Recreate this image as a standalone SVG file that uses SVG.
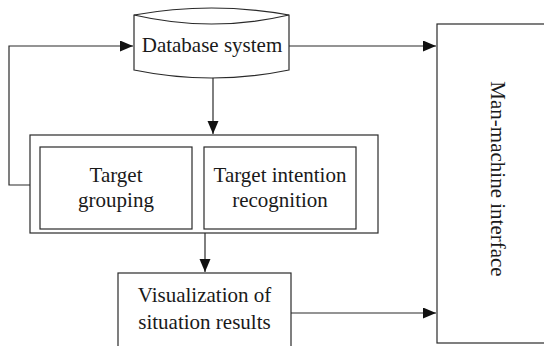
<svg xmlns="http://www.w3.org/2000/svg" width="544" height="346" viewBox="0 0 544 346">
<style>
.s{fill:none;stroke:#2a2a2a;stroke-width:1.2}
.b{fill:#fff;stroke:#2a2a2a;stroke-width:1.2}
.t{font-family:"Liberation Serif","Times New Roman",serif;font-size:21px;fill:#1a1a1a;text-anchor:middle}
</style>
<defs>
<marker id="ah" markerUnits="userSpaceOnUse" markerWidth="14" markerHeight="12" refX="13" refY="5.5" orient="auto">
<path d="M0,0 L13,5.5 L0,11 z" fill="#111"/>
</marker>
</defs>
<rect width="544" height="346" fill="#fff"/>
<g id="connectors">
<polyline class="s" points="30,185 9,185 9,46 133,46" marker-end="url(#ah)"/>
<line class="s" x1="289" y1="46" x2="436" y2="46" marker-end="url(#ah)"/>
<line class="s" x1="213" y1="78" x2="213" y2="134" marker-end="url(#ah)"/>
<line class="s" x1="205" y1="233" x2="205" y2="272" marker-end="url(#ah)"/>
<line class="s" x1="291" y1="313" x2="436" y2="313" marker-end="url(#ah)"/>
</g>
<g id="database">
<path class="b" d="M134,15 Q211.5,1 289,15 L289,70 Q211.5,86 134,70 Z"/>
<path class="s" d="M134,15 Q211.5,33 289,15"/>
<text class="t" x="212" y="52">Database system</text>
</g>
<g id="analysis">
<rect class="b" x="30" y="135" width="348" height="98"/>
</g>
<g id="grouping">
<rect class="b" x="40" y="147" width="152" height="82"/>
<text class="t" x="116" y="182">Target</text>
<text class="t" x="116" y="207">grouping</text>
</g>
<g id="intention">
<rect class="b" x="204" y="147" width="152" height="82"/>
<text class="t" x="280" y="182">Target intention</text>
<text class="t" x="280" y="207">recognition</text>
</g>
<g id="visualization">
<rect class="b" x="118" y="273" width="173" height="80"/>
<text class="t" x="204.5" y="302">Visualization of</text>
<text class="t" x="204.5" y="329">situation results</text>
</g>
<g id="mmi">
<rect class="b" x="437" y="24" width="112" height="319"/>
<text class="t" transform="translate(491,179) rotate(90)">Man-machine interface</text>
</g>
</svg>
